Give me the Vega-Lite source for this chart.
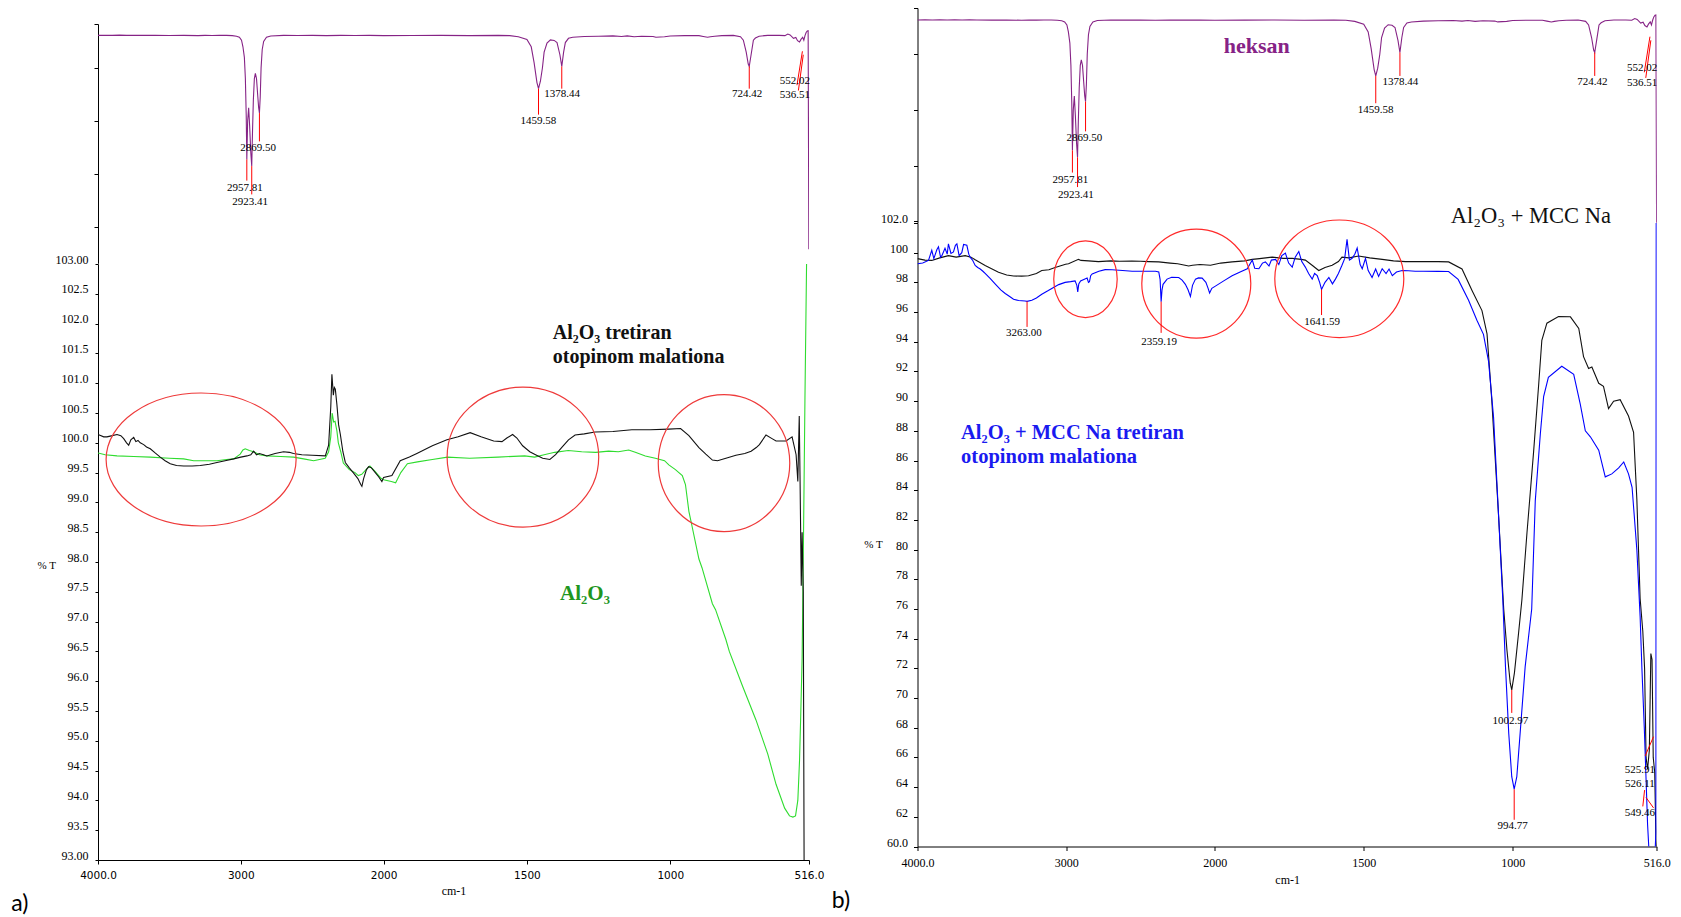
{
"$schema": "https://vega.github.io/schema/vega-lite/v6.json",
"background": "white",
"padding": {"left": 11, "top": 7, "right": 5, "bottom": 3},
"config": {
 "view": {"stroke": null},
 "axis": {"grid": false, "domainColor": "#000", "tickColor": "#000", "labelColor": "#000", "titleColor": "#000", "domainWidth": 1, "tickWidth": 1},
 "title": {"color": "#000"}
},
"datasets": {
 "hexane": [
  {"wn":4000,"t":92.3},{"wn":3950,"t":92.35},{"wn":3900,"t":92.3},{"wn":3850,"t":92.4},{"wn":3800,"t":92.3},{"wn":3750,"t":92.35},{"wn":3700,"t":92.3},{"wn":3650,"t":92.32},{"wn":3600,"t":92.3},{"wn":3500,"t":92.25},{"wn":3400,"t":92.3},{"wn":3300,"t":92.2},{"wn":3250,"t":92.3},{"wn":3200,"t":92.25},{"wn":3150,"t":92.3},{"wn":3100,"t":92.3},{"wn":3060,"t":92.2},{"wn":3030,"t":92.0},{"wn":3010,"t":91.6},{"wn":2995,"t":90.5},{"wn":2985,"t":88},{"wn":2975,"t":84},{"wn":2968,"t":76},{"wn":2962,"t":62},{"wn":2957.81,"t":45.5},{"wn":2952,"t":60},{"wn":2945,"t":65},{"wn":2938,"t":58},{"wn":2930,"t":48},{"wn":2923.41,"t":43},{"wn":2918,"t":56},{"wn":2912,"t":68},{"wn":2905,"t":76},{"wn":2898,"t":78},{"wn":2890,"t":76},{"wn":2882,"t":70},{"wn":2875,"t":65},{"wn":2869.5,"t":63},{"wn":2864,"t":69},{"wn":2858,"t":80},{"wn":2850,"t":87},{"wn":2840,"t":90},{"wn":2820,"t":91.6},{"wn":2790,"t":92.1},{"wn":2700,"t":92.3},{"wn":2600,"t":92.25},{"wn":2500,"t":92.3},{"wn":2400,"t":92.2},{"wn":2300,"t":92.3},{"wn":2200,"t":92.25},{"wn":2100,"t":92.3},{"wn":2000,"t":92.2},{"wn":1900,"t":92.25},{"wn":1800,"t":92.3},{"wn":1700,"t":92.2},{"wn":1600,"t":92.3},{"wn":1560,"t":92.2},{"wn":1530,"t":91.8},{"wn":1500,"t":90.8},{"wn":1485,"t":88},{"wn":1475,"t":82},{"wn":1465,"t":74.5},{"wn":1459.58,"t":72.2},{"wn":1453,"t":75},{"wn":1446,"t":80},{"wn":1440,"t":86},{"wn":1430,"t":89.4},{"wn":1418,"t":90.6},{"wn":1405,"t":90.4},{"wn":1395,"t":89.6},{"wn":1385,"t":85},{"wn":1378.44,"t":80.6},{"wn":1372,"t":86},{"wn":1366,"t":89.6},{"wn":1355,"t":91.2},{"wn":1340,"t":91.6},{"wn":1300,"t":91.9},{"wn":1250,"t":92.0},{"wn":1200,"t":92.1},{"wn":1170,"t":91.9},{"wn":1150,"t":92.1},{"wn":1126,"t":91.8},{"wn":1100,"t":92.0},{"wn":1060,"t":91.9},{"wn":1050,"t":91.6},{"wn":1020,"t":91.8},{"wn":1000,"t":92.1},{"wn":950,"t":92.2},{"wn":900,"t":92.2},{"wn":885,"t":91.9},{"wn":870,"t":91.6},{"wn":860,"t":91.8},{"wn":845,"t":92.0},{"wn":820,"t":92.2},{"wn":780,"t":92.3},{"wn":755,"t":91.8},{"wn":745,"t":90.5},{"wn":735,"t":86},{"wn":728,"t":81.5},{"wn":724.42,"t":80.6},{"wn":718,"t":85},{"wn":710,"t":90.5},{"wn":703,"t":91.3},{"wn":690,"t":92.0},{"wn":660,"t":92.3},{"wn":620,"t":92.3},{"wn":600,"t":92.2},{"wn":590,"t":92.8},{"wn":582,"t":92.5},{"wn":570,"t":91.2},{"wn":562,"t":91.5},{"wn":556,"t":90.3},{"wn":549,"t":89.8},{"wn":544,"t":90.8},{"wn":538,"t":91.6},{"wn":534,"t":90.5},{"wn":530,"t":92.2},{"wn":526,"t":93.4},{"wn":522,"t":94.0},{"wn":519,"t":94.1},{"wn":516.5,"t":11.6}
 ],
 "hexRules": [
  {"wn":2957.81,"wn2":2957.81,"t":45.5,"t2":37.5},{"wn":2923.41,"wn2":2923.41,"t":43,"t2":32.3},{"wn":2869.5,"wn2":2869.5,"t":63,"t2":52.3},{"wn":1459.58,"wn2":1459.58,"t":72.2,"t2":62.4},{"wn":1378.44,"wn2":1378.44,"t":80.6,"t2":72.2},{"wn":724.42,"wn2":724.42,"t":80.6,"t2":72.2},{"wn":539,"wn2":558,"t":86.3,"t2":73.5},{"wn":536,"wn2":553,"t":85,"t2":71.5}
 ],
 "hexLabels": [
  {"label":"2869.50","wn":2878,"t":49.8},{"label":"2957.81","wn":2971,"t":34.7},{"label":"2923.41","wn":2935,"t":29.4},{"label":"1459.58","wn":1460,"t":60.1},{"label":"1378.44","wn":1377,"t":70.2},{"label":"724.42","wn":732,"t":70.2},{"label":"552.02","wn":565,"t":75.0},{"label":"536.51","wn":565,"t":69.7}
 ],
 "blackL": [
  {"wn":4000,"t":100.14},{"wn":3960,"t":100.1},{"wn":3937,"t":100.1},{"wn":3900,"t":100.12},{"wn":3867,"t":100.14},{"wn":3840,"t":100.12},{"wn":3820,"t":100.07},{"wn":3800,"t":100.0},{"wn":3785,"t":99.96},{"wn":3770,"t":100.05},{"wn":3750,"t":100.09},{"wn":3735,"t":100.02},{"wn":3720,"t":100.04},{"wn":3704,"t":100.0},{"wn":3680,"t":99.97},{"wn":3660,"t":99.93},{"wn":3634,"t":99.9},{"wn":3600,"t":99.83},{"wn":3564,"t":99.76},{"wn":3530,"t":99.7},{"wn":3494,"t":99.65},{"wn":3450,"t":99.62},{"wn":3400,"t":99.61},{"wn":3340,"t":99.61},{"wn":3284,"t":99.62},{"wn":3220,"t":99.64},{"wn":3167,"t":99.67},{"wn":3110,"t":99.7},{"wn":3050,"t":99.73},{"wn":3000,"t":99.76},{"wn":2957,"t":99.78},{"wn":2930,"t":99.8},{"wn":2910,"t":99.86},{"wn":2890,"t":99.8},{"wn":2870,"t":99.82},{"wn":2841,"t":99.8},{"wn":2818,"t":99.78},{"wn":2760,"t":99.82},{"wn":2701,"t":99.85},{"wn":2660,"t":99.84},{"wn":2631,"t":99.82},{"wn":2573,"t":99.8},{"wn":2500,"t":99.79},{"wn":2408,"t":99.78},{"wn":2385,"t":99.96},{"wn":2370,"t":100.6},{"wn":2362,"t":101.15},{"wn":2352,"t":100.8},{"wn":2345,"t":100.93},{"wn":2338,"t":100.9},{"wn":2327,"t":100.64},{"wn":2315,"t":100.3},{"wn":2303,"t":100.14},{"wn":2285,"t":99.85},{"wn":2268,"t":99.67},{"wn":2240,"t":99.58},{"wn":2210,"t":99.49},{"wn":2180,"t":99.4},{"wn":2160,"t":99.3},{"wn":2152,"t":99.27},{"wn":2140,"t":99.4},{"wn":2120,"t":99.55},{"wn":2105,"t":99.6},{"wn":2085,"t":99.58},{"wn":2058,"t":99.5},{"wn":2035,"t":99.43},{"wn":2012,"t":99.35},{"wn":2000,"t":99.42},{"wn":1971,"t":99.45},{"wn":1942,"t":99.7},{"wn":1910,"t":99.76},{"wn":1884,"t":99.82},{"wn":1830,"t":99.95},{"wn":1779,"t":100.05},{"wn":1740,"t":100.1},{"wn":1698,"t":100.17},{"wn":1660,"t":100.1},{"wn":1616,"t":100.03},{"wn":1587,"t":100.02},{"wn":1570,"t":100.08},{"wn":1550,"t":100.14},{"wn":1535,"t":100.08},{"wn":1515,"t":99.95},{"wn":1490,"t":99.85},{"wn":1470,"t":99.8},{"wn":1445,"t":99.74},{"wn":1420,"t":99.72},{"wn":1400,"t":99.8},{"wn":1379,"t":99.92},{"wn":1355,"t":100.05},{"wn":1332,"t":100.13},{"wn":1300,"t":100.15},{"wn":1262,"t":100.18},{"wn":1200,"t":100.19},{"wn":1134,"t":100.22},{"wn":1070,"t":100.22},{"wn":1005,"t":100.23},{"wn":964,"t":100.24},{"wn":935,"t":100.12},{"wn":900,"t":99.92},{"wn":876,"t":99.81},{"wn":853,"t":99.71},{"wn":835,"t":99.7},{"wn":800,"t":99.75},{"wn":771,"t":99.79},{"wn":740,"t":99.82},{"wn":718,"t":99.86},{"wn":700,"t":99.92},{"wn":689,"t":99.97},{"wn":666,"t":100.13},{"wn":645,"t":100.07},{"wn":631,"t":100.03},{"wn":596,"t":100.03},{"wn":575,"t":100.1},{"wn":561,"t":99.8},{"wn":555,"t":99.35},{"wn":550,"t":100.45},{"wn":547,"t":99.3},{"wn":543,"t":97.6},{"wn":540,"t":98.5},{"wn":536,"t":97.5},{"wn":533,"t":92.8},{"wn":520,"t":92.8}
 ],
 "greenL": [
  {"wn":4000,"t":99.83},{"wn":3950,"t":99.8},{"wn":3867,"t":99.78},{"wn":3750,"t":99.77},{"wn":3634,"t":99.76},{"wn":3500,"t":99.74},{"wn":3400,"t":99.73},{"wn":3330,"t":99.7},{"wn":3250,"t":99.7},{"wn":3167,"t":99.7},{"wn":3100,"t":99.72},{"wn":3050,"t":99.73},{"wn":3004,"t":99.81},{"wn":2985,"t":99.88},{"wn":2969,"t":99.9},{"wn":2940,"t":99.87},{"wn":2910,"t":99.85},{"wn":2870,"t":99.8},{"wn":2817,"t":99.78},{"wn":2720,"t":99.77},{"wn":2630,"t":99.76},{"wn":2560,"t":99.73},{"wn":2490,"t":99.7},{"wn":2409,"t":99.74},{"wn":2385,"t":99.85},{"wn":2370,"t":100.1},{"wn":2360,"t":100.5},{"wn":2350,"t":100.35},{"wn":2340,"t":100.36},{"wn":2327,"t":100.2},{"wn":2317,"t":100.0},{"wn":2300,"t":99.85},{"wn":2282,"t":99.66},{"wn":2240,"t":99.55},{"wn":2200,"t":99.5},{"wn":2177,"t":99.45},{"wn":2153,"t":99.47},{"wn":2120,"t":99.56},{"wn":2096,"t":99.61},{"wn":2060,"t":99.52},{"wn":2021,"t":99.41},{"wn":2000,"t":99.38},{"wn":1973,"t":99.35},{"wn":1958,"t":99.33},{"wn":1940,"t":99.5},{"wn":1917,"t":99.65},{"wn":1882,"t":99.68},{"wn":1830,"t":99.72},{"wn":1777,"t":99.76},{"wn":1700,"t":99.74},{"wn":1601,"t":99.76},{"wn":1508,"t":99.78},{"wn":1473,"t":99.76},{"wn":1440,"t":99.8},{"wn":1403,"t":99.84},{"wn":1356,"t":99.87},{"wn":1309,"t":99.85},{"wn":1260,"t":99.84},{"wn":1215,"t":99.86},{"wn":1181,"t":99.85},{"wn":1145,"t":99.88},{"wn":1122,"t":99.84},{"wn":1087,"t":99.78},{"wn":1052,"t":99.74},{"wn":1020,"t":99.7},{"wn":1005,"t":99.63},{"wn":982,"t":99.55},{"wn":958,"t":99.45},{"wn":947,"t":99.3},{"wn":935,"t":98.85},{"wn":924,"t":98.6},{"wn":900,"t":98.05},{"wn":889,"t":97.9},{"wn":853,"t":97.3},{"wn":842,"t":97.2},{"wn":806,"t":96.7},{"wn":794,"t":96.5},{"wn":748,"t":95.92},{"wn":701,"t":95.35},{"wn":660,"t":94.78},{"wn":631,"t":94.27},{"wn":601,"t":93.87},{"wn":584,"t":93.74},{"wn":572,"t":93.72},{"wn":563,"t":93.74},{"wn":555,"t":94.0},{"wn":549,"t":94.67},{"wn":545,"t":95.4},{"wn":540,"t":96.38},{"wn":535,"t":98.5},{"wn":530,"t":100.8},{"wn":524,"t":103.2},{"wn":518,"t":103.5}
 ],
 "blackR": [
  {"wn":4000,"t":99.6},{"wn":3950,"t":99.5},{"wn":3904,"t":99.48},{"wn":3850,"t":99.65},{"wn":3792,"t":99.8},{"wn":3740,"t":99.7},{"wn":3679,"t":99.8},{"wn":3640,"t":99.7},{"wn":3612,"t":99.52},{"wn":3545,"t":99.14},{"wn":3455,"t":98.68},{"wn":3400,"t":98.5},{"wn":3354,"t":98.43},{"wn":3300,"t":98.42},{"wn":3253,"t":98.45},{"wn":3200,"t":98.6},{"wn":3164,"t":98.8},{"wn":3116,"t":98.85},{"wn":3074,"t":99.0},{"wn":3004,"t":99.22},{"wn":2984,"t":99.25},{"wn":2917,"t":99.55},{"wn":2900,"t":99.48},{"wn":2850,"t":99.45},{"wn":2783,"t":99.4},{"wn":2700,"t":99.45},{"wn":2640,"t":99.42},{"wn":2558,"t":99.43},{"wn":2500,"t":99.42},{"wn":2446,"t":99.4},{"wn":2377,"t":99.38},{"wn":2300,"t":99.3},{"wn":2250,"t":99.25},{"wn":2200,"t":99.15},{"wn":2176,"t":99.1},{"wn":2150,"t":99.15},{"wn":2100,"t":99.2},{"wn":2029,"t":99.15},{"wn":1980,"t":99.3},{"wn":1942,"t":99.38},{"wn":1900,"t":99.45},{"wn":1874,"t":99.55},{"wn":1850,"t":99.6},{"wn":1807,"t":99.7},{"wn":1770,"t":99.62},{"wn":1740,"t":99.62},{"wn":1710,"t":99.55},{"wn":1696,"t":99.5},{"wn":1670,"t":99.1},{"wn":1651,"t":98.8},{"wn":1630,"t":99.0},{"wn":1606,"t":99.15},{"wn":1585,"t":99.4},{"wn":1573,"t":99.7},{"wn":1550,"t":99.65},{"wn":1517,"t":99.78},{"wn":1480,"t":99.65},{"wn":1438,"t":99.55},{"wn":1400,"t":99.45},{"wn":1360,"t":99.4},{"wn":1300,"t":99.4},{"wn":1250,"t":99.4},{"wn":1215,"t":99.38},{"wn":1170,"t":98.9},{"wn":1136,"t":97.44},{"wn":1103,"t":96.1},{"wn":1086,"t":94.53},{"wn":1070,"t":90.04},{"wn":1047,"t":82.2},{"wn":1030,"t":76.0},{"wn":1019,"t":73.2},{"wn":1008,"t":71.0},{"wn":1003,"t":70.55},{"wn":994,"t":71.7},{"wn":980,"t":74.4},{"wn":969,"t":76.6},{"wn":952,"t":81.1},{"wn":930,"t":86.5},{"wn":913,"t":91.0},{"wn":902,"t":94.1},{"wn":885,"t":95.25},{"wn":846,"t":95.7},{"wn":806,"t":95.68},{"wn":778,"t":94.9},{"wn":762,"t":93.0},{"wn":745,"t":92.2},{"wn":734,"t":92.3},{"wn":711,"t":91.2},{"wn":695,"t":91.0},{"wn":678,"t":89.5},{"wn":661,"t":90.0},{"wn":639,"t":90.1},{"wn":611,"t":89.0},{"wn":594,"t":87.9},{"wn":583,"t":83.4},{"wn":572,"t":76.7},{"wn":563,"t":74.5},{"wn":557,"t":72},{"wn":552,"t":66},{"wn":547,"t":65.2},{"wn":541,"t":66.5},{"wn":536,"t":73},{"wn":532,"t":72.6},{"wn":528,"t":66},{"wn":523,"t":65},{"wn":519,"t":60.5},{"wn":516,"t":59.5}
 ],
 "blueR": [
  {"wn":4000,"t":99.25},{"wn":3965,"t":99.3},{"wn":3926,"t":99.48},{"wn":3904,"t":100.16},{"wn":3890,"t":99.6},{"wn":3870,"t":100.2},{"wn":3859,"t":100.4},{"wn":3845,"t":99.7},{"wn":3836,"t":99.8},{"wn":3815,"t":100.3},{"wn":3800,"t":99.9},{"wn":3792,"t":100.6},{"wn":3775,"t":99.95},{"wn":3758,"t":100.05},{"wn":3745,"t":100.5},{"wn":3735,"t":100.6},{"wn":3720,"t":99.8},{"wn":3702,"t":100.0},{"wn":3690,"t":100.55},{"wn":3668,"t":100.5},{"wn":3655,"t":99.9},{"wn":3646,"t":99.7},{"wn":3630,"t":99.5},{"wn":3612,"t":99.14},{"wn":3595,"t":99.0},{"wn":3578,"t":98.9},{"wn":3560,"t":98.75},{"wn":3545,"t":98.6},{"wn":3510,"t":98.25},{"wn":3478,"t":97.9},{"wn":3440,"t":97.5},{"wn":3410,"t":97.25},{"wn":3380,"t":97.05},{"wn":3354,"t":96.86},{"wn":3320,"t":96.78},{"wn":3276,"t":96.75},{"wn":3263,"t":96.72},{"wn":3231,"t":96.8},{"wn":3200,"t":96.95},{"wn":3164,"t":97.2},{"wn":3120,"t":97.45},{"wn":3085,"t":97.66},{"wn":3050,"t":97.85},{"wn":3007,"t":98.0},{"wn":2970,"t":98.05},{"wn":2940,"t":98.1},{"wn":2928,"t":97.8},{"wn":2922,"t":97.36},{"wn":2915,"t":97.9},{"wn":2903,"t":98.1},{"wn":2870,"t":98.25},{"wn":2859,"t":98.29},{"wn":2850,"t":98.0},{"wn":2843,"t":98.05},{"wn":2835,"t":98.45},{"wn":2825,"t":98.57},{"wn":2780,"t":98.75},{"wn":2738,"t":98.86},{"wn":2691,"t":98.85},{"wn":2620,"t":98.8},{"wn":2556,"t":98.75},{"wn":2480,"t":98.75},{"wn":2399,"t":98.75},{"wn":2377,"t":98.7},{"wn":2368,"t":98.2},{"wn":2361,"t":96.7},{"wn":2355,"t":97.5},{"wn":2348,"t":97.87},{"wn":2321,"t":98.22},{"wn":2290,"t":98.35},{"wn":2243,"t":98.33},{"wn":2220,"t":98.15},{"wn":2198,"t":97.87},{"wn":2180,"t":97.5},{"wn":2164,"t":97.05},{"wn":2150,"t":97.8},{"wn":2130,"t":98.22},{"wn":2110,"t":98.3},{"wn":2085,"t":98.29},{"wn":2060,"t":98.0},{"wn":2045,"t":97.6},{"wn":2035,"t":97.29},{"wn":2020,"t":97.6},{"wn":1998,"t":97.75},{"wn":1970,"t":98.1},{"wn":1942,"t":98.45},{"wn":1915,"t":98.7},{"wn":1891,"t":98.92},{"wn":1880,"t":99.3},{"wn":1874,"t":99.5},{"wn":1866,"t":98.95},{"wn":1852,"t":98.92},{"wn":1840,"t":99.3},{"wn":1830,"t":99.38},{"wn":1818,"t":99.1},{"wn":1810,"t":99.5},{"wn":1796,"t":99.55},{"wn":1785,"t":99.2},{"wn":1775,"t":99.8},{"wn":1763,"t":99.97},{"wn":1752,"t":99.3},{"wn":1740,"t":99.03},{"wn":1730,"t":99.7},{"wn":1718,"t":100.08},{"wn":1708,"t":99.4},{"wn":1696,"t":99.03},{"wn":1685,"t":98.6},{"wn":1673,"t":98.22},{"wn":1665,"t":98.6},{"wn":1656,"t":98.45},{"wn":1648,"t":98.0},{"wn":1641.6,"t":97.52},{"wn":1630,"t":98.0},{"wn":1617,"t":98.33},{"wn":1605,"t":97.9},{"wn":1595,"t":98.22},{"wn":1585,"t":98.6},{"wn":1573,"t":99.15},{"wn":1564,"t":99.6},{"wn":1556,"t":100.9},{"wn":1548,"t":99.5},{"wn":1539,"t":99.62},{"wn":1530,"t":99.9},{"wn":1522,"t":100.32},{"wn":1512,"t":99.2},{"wn":1505,"t":98.92},{"wn":1494,"t":99.62},{"wn":1485,"t":98.8},{"wn":1472,"t":98.33},{"wn":1460,"t":98.9},{"wn":1450,"t":98.4},{"wn":1438,"t":98.92},{"wn":1425,"t":98.6},{"wn":1415,"t":98.9},{"wn":1404,"t":98.45},{"wn":1390,"t":98.7},{"wn":1371,"t":98.8},{"wn":1350,"t":98.78},{"wn":1327,"t":98.75},{"wn":1300,"t":98.75},{"wn":1250,"t":98.74},{"wn":1215,"t":98.73},{"wn":1183,"t":98.2},{"wn":1148,"t":96.8},{"wn":1120,"t":95.45},{"wn":1098,"t":94.5},{"wn":1081,"t":92.7},{"wn":1064,"t":88.9},{"wn":1047,"t":82.2},{"wn":1033,"t":76.6},{"wn":1024,"t":72.1},{"wn":1013,"t":67.6},{"wn":1003,"t":64.7},{"wn":994.8,"t":63.86},{"wn":986,"t":64.7},{"wn":975,"t":67.6},{"wn":958,"t":72.1},{"wn":936,"t":76},{"wn":924,"t":83.3},{"wn":907,"t":87.8},{"wn":896,"t":90.3},{"wn":880,"t":91.6},{"wn":835,"t":92.35},{"wn":795,"t":91.8},{"wn":773,"t":89.8},{"wn":756,"t":88.0},{"wn":739,"t":87.6},{"wn":711,"t":86.7},{"wn":689,"t":84.9},{"wn":667,"t":85.1},{"wn":644,"t":85.5},{"wn":627,"t":85.9},{"wn":611,"t":85.1},{"wn":599,"t":84.2},{"wn":583,"t":80.0},{"wn":572,"t":75.5},{"wn":566,"t":72},{"wn":558,"t":68},{"wn":552,"t":64.5},{"wn":547,"t":61.5},{"wn":543,"t":60.0},{"wn":535,"t":59.5},{"wn":522,"t":59.5},{"wn":519,"t":61},{"wn":518,"t":102.5},{"wn":516,"t":102.5}
 ],
 "rightRules": [
  {"wn":3263,"wn2":3263,"t":96.72,"t2":95.0},{"wn":2361,"wn2":2361,"t":96.7,"t2":94.6},{"wn":1641.6,"wn2":1641.6,"t":97.52,"t2":95.8},{"wn":1003,"wn2":1003,"t":70.55,"t2":69.0},{"wn":994.8,"wn2":994.8,"t":63.86,"t2":61.8},{"wn":527,"wn2":555,"t":67.4,"t2":66.1},{"wn":557,"wn2":563,"t":63.8,"t2":62.7},{"wn":552,"wn2":527,"t":63.3,"t2":62.6}
 ],
 "rightLabels": [
  {"label":"3263.00","wn":3285,"t":94.6},{"label":"2359.19","wn":2375,"t":94.0},{"label":"1641.59","wn":1640,"t":95.3},{"label":"1002.97","wn":1008,"t":68.45},{"label":"994.77","wn":1000,"t":61.35},{"label":"525.91","wn":573,"t":65.17},{"label":"526.11","wn":573,"t":64.24},{"label":"549.46","wn":573,"t":62.29}
 ]
},
"spacing": 6.5,
"resolve": {"scale": {"x": "independent", "y": "independent"}},
"hconcat": [
 {
  "spacing": 0,
  "bounds": "flush",
  "resolve": {"scale": {"x": "independent", "y": "independent"}},
  "vconcat": [
   {"width": 711, "height": 15.4, "data": {"values": [{"n": 0}]}, "mark": {"type": "text", "text": ""}, "encoding": {}},
   {
    "width": 711, "height": 239.3,
    "encoding": {
     "x": {"field": "wn", "type": "quantitative", "scale": {"domain": [4000, 2000, 516], "range": [0, 285.6, 711], "nice": false, "zero": false}, "axis": null},
     "y": {"field": "t", "type": "quantitative", "scale": {"domain": [6.3, 96.6], "nice": false, "zero": false},
           "axis": {"values": [96.6, 80, 60, 40, 20], "labels": false, "title": null, "tickSize": 4}}
    },
    "layer": [
     {"data": {"name": "hexane"}, "mark": {"type": "line", "color": "#862386", "strokeWidth": 1.1, "clip": true}},
     {"data": {"name": "hexRules"}, "mark": {"type": "rule", "color": "#ff0000", "strokeWidth": 1}, "encoding": {"x2": {"field": "wn2"}, "y2": {"field": "t2"}}},
     {"data": {"name": "hexLabels"}, "mark": {"type": "text", "font": "Liberation Serif", "fontSize": 11, "align": "center", "baseline": "middle", "color": "#000"}, "encoding": {"text": {"field": "label"}}}
    ]
   },
   {
    "width": 711, "height": 596,
    "title": {"text": "a)", "orient": "bottom", "anchor": "start", "frame": "group", "dx": -86.7, "offset": -4, "font": "Lato", "fontSize": 23, "fontWeight": "normal", "color": "#000"},
    "encoding": {
     "x": {"field": "wn", "type": "quantitative", "scale": {"domain": [4000, 2000, 516], "range": [0, 285.6, 711], "nice": false, "zero": false},
           "axis": {"values": [4000, 3000, 2000, 1500, 1000, 516], "format": "d", "labelExpr": "datum.value == 4000 ? '4000.0' : datum.value == 516 ? '516.0' : format(datum.value, 'd')", "labelFlush": false, "labelOverlap": false, "labelFont": "DejaVu Sans", "labelFontSize": 10.5, "tickSize": 4, "labelPadding": 6, "title": "cm-1", "titleFont": "Liberation Serif", "titleFontSize": 12, "titleFontWeight": "normal", "titlePadding": 5}},
     "y": {"field": "t", "type": "quantitative", "scale": {"domain": [93, 103], "nice": false, "zero": false},
           "axis": {"values": [93, 93.5, 94, 94.5, 95, 95.5, 96, 96.5, 97, 97.5, 98, 98.5, 99, 99.5, 100, 100.5, 101, 101.5, 102, 102.5, 103], "labelExpr": "datum.value == 103 ? '103.00' : datum.value == 93 ? '93.00' : format(datum.value, '.1f')", "labelOverlap": false, "labelFont": "Liberation Serif", "labelFontSize": 12, "tickSize": 3, "labelPadding": 7, "labelOffset": -5, "title": "% T", "titleAngle": 0, "titleX": -61, "titleY": 301, "titleAlign": "left", "titleBaseline": "middle", "titleFont": "Liberation Serif", "titleFontSize": 11, "titleFontWeight": "normal"}}
    },
    "layer": [
     {"data": {"name": "greenL"}, "mark": {"type": "line", "color": "#2fdc2f", "strokeWidth": 1.1, "clip": true}},
     {"data": {"name": "blackL"}, "mark": {"type": "line", "color": "#111111", "strokeWidth": 1.1, "clip": true}},
     {"data": {"values": [{"wn": 3278, "t": 99.72}]}, "mark": {"type": "point", "shape": "M1,0C1,0.3866,0.5523,0.7,0,0.7C-0.5523,0.7,-1,0.3866,-1,0C-1,-0.3866,-0.5523,-0.7,0,-0.7C0.5523,-0.7,1,-0.3866,1,0Z", "size": 36100, "filled": false, "stroke": "#ee3a3a", "strokeWidth": 1.2, "opacity": 1}},
     {"data": {"values": [{"wn": 1514, "t": 99.76}]}, "mark": {"type": "point", "shape": "M1,0C1,0.5098,0.5523,0.923,0,0.923C-0.5523,0.923,-1,0.5098,-1,0C-1,-0.5098,-0.5523,-0.923,0,-0.923C0.5523,-0.923,1,-0.5098,1,0Z", "size": 22983, "filled": false, "stroke": "#ee3a3a", "strokeWidth": 1.2, "opacity": 1}},
     {"data": {"values": [{"wn": 812.5, "t": 99.66}]}, "mark": {"type": "point", "shape": "M0.96,0C0.96,0.5523,0.5302,1,0,1C-0.5302,1,-0.96,0.5523,-0.96,0C-0.96,-0.5523,-0.5302,-1,0,-1C0.5302,-1,0.96,-0.5523,0.96,0Z", "size": 18769, "filled": false, "stroke": "#ee3a3a", "strokeWidth": 1.2, "opacity": 1}},
     {"data": {"values": [{"note": "Al\u2082O\u2083 tretiran", "wn": 1410, "t": 101.74}, {"note": "otopinom malationa", "wn": 1410, "t": 101.34}]}, "mark": {"type": "text", "align": "left", "baseline": "alphabetic", "font": "Liberation Serif", "fontSize": 20, "fontWeight": "bold", "color": "#111111"}, "encoding": {"text": {"field": "note"}}},
     {"data": {"values": [{"note": "Al\u2082O\u2083", "wn": 1384.5, "t": 97.36}]}, "mark": {"type": "text", "align": "left", "baseline": "alphabetic", "font": "Liberation Serif", "fontSize": 21, "fontWeight": "bold", "color": "#1f961f"}, "encoding": {"text": {"field": "note"}}}
    ]
   }
  ]
 },
 {
  "spacing": 0,
  "bounds": "flush",
  "resolve": {"scale": {"x": "independent", "y": "independent"}},
  "vconcat": [
   {
    "width": 739.3, "height": 214.7,
    "encoding": {
     "x": {"field": "wn", "type": "quantitative", "scale": {"domain": [4000, 2000, 516], "range": [0, 297.3, 739.3], "nice": false, "zero": false}, "axis": null},
     "y": {"field": "t", "type": "quantitative", "scale": {"domain": [19.5, 96.6], "nice": false, "zero": false},
           "axis": {"values": [96.6, 80, 60, 40, 20], "labels": false, "title": null, "tickSize": 4}}
    },
    "layer": [
     {"data": {"name": "hexane"}, "mark": {"type": "line", "color": "#862386", "strokeWidth": 1.1, "clip": true}},
     {"data": {"name": "hexRules"}, "mark": {"type": "rule", "color": "#ff0000", "strokeWidth": 1}, "encoding": {"x2": {"field": "wn2"}, "y2": {"field": "t2"}}},
     {"data": {"name": "hexLabels"}, "mark": {"type": "text", "font": "Liberation Serif", "fontSize": 11, "align": "center", "baseline": "middle", "color": "#000"}, "encoding": {"text": {"field": "label"}}},
     {"data": {"values": [{"note": "heksan", "wn": 1859, "t": 83.1}]}, "mark": {"type": "text", "align": "center", "baseline": "middle", "font": "Liberation Serif", "fontSize": 22, "fontWeight": "bold", "color": "#862386"}, "encoding": {"text": {"field": "note"}}}
    ]
   },
   {
    "width": 739.3, "height": 623.5,
    "title": {"text": "b)", "orient": "bottom", "anchor": "start", "frame": "group", "dx": -85.7, "offset": 4, "font": "Lato", "fontSize": 23, "fontWeight": "normal", "color": "#000"},
    "encoding": {
     "x": {"field": "wn", "type": "quantitative", "scale": {"domain": [4000, 2000, 516], "range": [0, 297.3, 739.3], "nice": false, "zero": false},
           "axis": {"values": [4000, 3000, 2000, 1500, 1000, 516], "format": "d", "labelExpr": "datum.value == 4000 ? '4000.0' : datum.value == 516 ? '516.0' : format(datum.value, 'd')", "labelFlush": false, "labelOverlap": false, "labelFont": "Liberation Serif", "labelFontSize": 12, "tickSize": 4, "labelPadding": 7, "title": "cm-1", "titleFont": "Liberation Serif", "titleFontSize": 12, "titleFontWeight": "normal", "titlePadding": 6}},
     "y": {"field": "t", "type": "quantitative", "scale": {"domain": [60, 102], "nice": false, "zero": false},
           "axis": {"values": [60, 62, 64, 66, 68, 70, 72, 74, 76, 78, 80, 82, 84, 86, 88, 90, 92, 94, 96, 98, 100, 102], "labelExpr": "datum.value == 102 ? '102.0' : datum.value == 60 ? '60.0' : format(datum.value, 'd')", "labelOverlap": false, "labelFont": "Liberation Serif", "labelFontSize": 12, "tickSize": 4, "labelPadding": 6, "labelOffset": -4.5, "title": "% T", "titleAngle": 0, "titleX": -53.7, "titleY": 321, "titleAlign": "left", "titleBaseline": "middle", "titleFont": "Liberation Serif", "titleFontSize": 11, "titleFontWeight": "normal"}}
    },
    "layer": [
     {"data": {"name": "blackR"}, "mark": {"type": "line", "color": "#111111", "strokeWidth": 1.1, "clip": true}},
     {"data": {"name": "blueR"}, "mark": {"type": "line", "color": "#0000ff", "strokeWidth": 1.1, "clip": true}},
     {"data": {"values": [{"wn": 2870, "t": 98.21}]}, "mark": {"type": "point", "shape": "M0.828,0C0.828,0.5523,0.4573,1,0,1C-0.4573,1,-0.828,0.5523,-0.828,0C-0.828,-0.5523,-0.4573,-1,0,-1C0.4573,-1,0.828,-0.5523,0.828,0Z", "size": 5868, "filled": false, "stroke": "#ff2a2a", "strokeWidth": 1.2, "opacity": 1}},
     {"data": {"values": [{"wn": 2124.5, "t": 97.92}]}, "mark": {"type": "point", "shape": "M1,0C1,0.5523,0.5523,1,0,1C-0.5523,1,-1,0.5523,-1,0C-1,-0.5523,-0.5523,-1,0,-1C0.5523,-1,1,-0.5523,1,0Z", "size": 11881, "filled": false, "stroke": "#ff2a2a", "strokeWidth": 1.2, "opacity": 1}},
     {"data": {"values": [{"wn": 1582, "t": 98.24}]}, "mark": {"type": "point", "shape": "M1,0C1,0.5037,0.5523,0.912,0,0.912C-0.5523,0.912,-1,0.5037,-1,0C-1,-0.5037,-0.5523,-0.912,0,-0.912C0.5523,-0.912,1,-0.5037,1,0Z", "size": 16641, "filled": false, "stroke": "#ff2a2a", "strokeWidth": 1.2, "opacity": 1}},
     {"data": {"name": "rightRules"}, "mark": {"type": "rule", "color": "#ff0000", "strokeWidth": 1}, "encoding": {"x2": {"field": "wn2"}, "y2": {"field": "t2"}}},
     {"data": {"name": "rightLabels"}, "mark": {"type": "text", "font": "Liberation Serif", "fontSize": 11, "align": "center", "baseline": "middle", "color": "#000"}, "encoding": {"text": {"field": "label"}}},
     {"data": {"values": [{"note": "Al\u2082O\u2083 + MCC Na", "wn": 939, "t": 102.0}]}, "mark": {"type": "text", "align": "center", "baseline": "alphabetic", "font": "Liberation Serif", "fontSize": 22.5, "fontWeight": "normal", "color": "#111111"}, "encoding": {"text": {"field": "note"}}},
     {"data": {"values": [{"note": "Al\u2082O\u2083 + MCC Na tretiran", "wn": 3707, "t": 87.45}, {"note": "otopinom malationa", "wn": 3707, "t": 85.86}]}, "mark": {"type": "text", "align": "left", "baseline": "alphabetic", "font": "Liberation Serif", "fontSize": 20.5, "fontWeight": "bold", "color": "#1a1af0"}, "encoding": {"text": {"field": "note"}}}
    ]
   }
  ]
 }
]
}
